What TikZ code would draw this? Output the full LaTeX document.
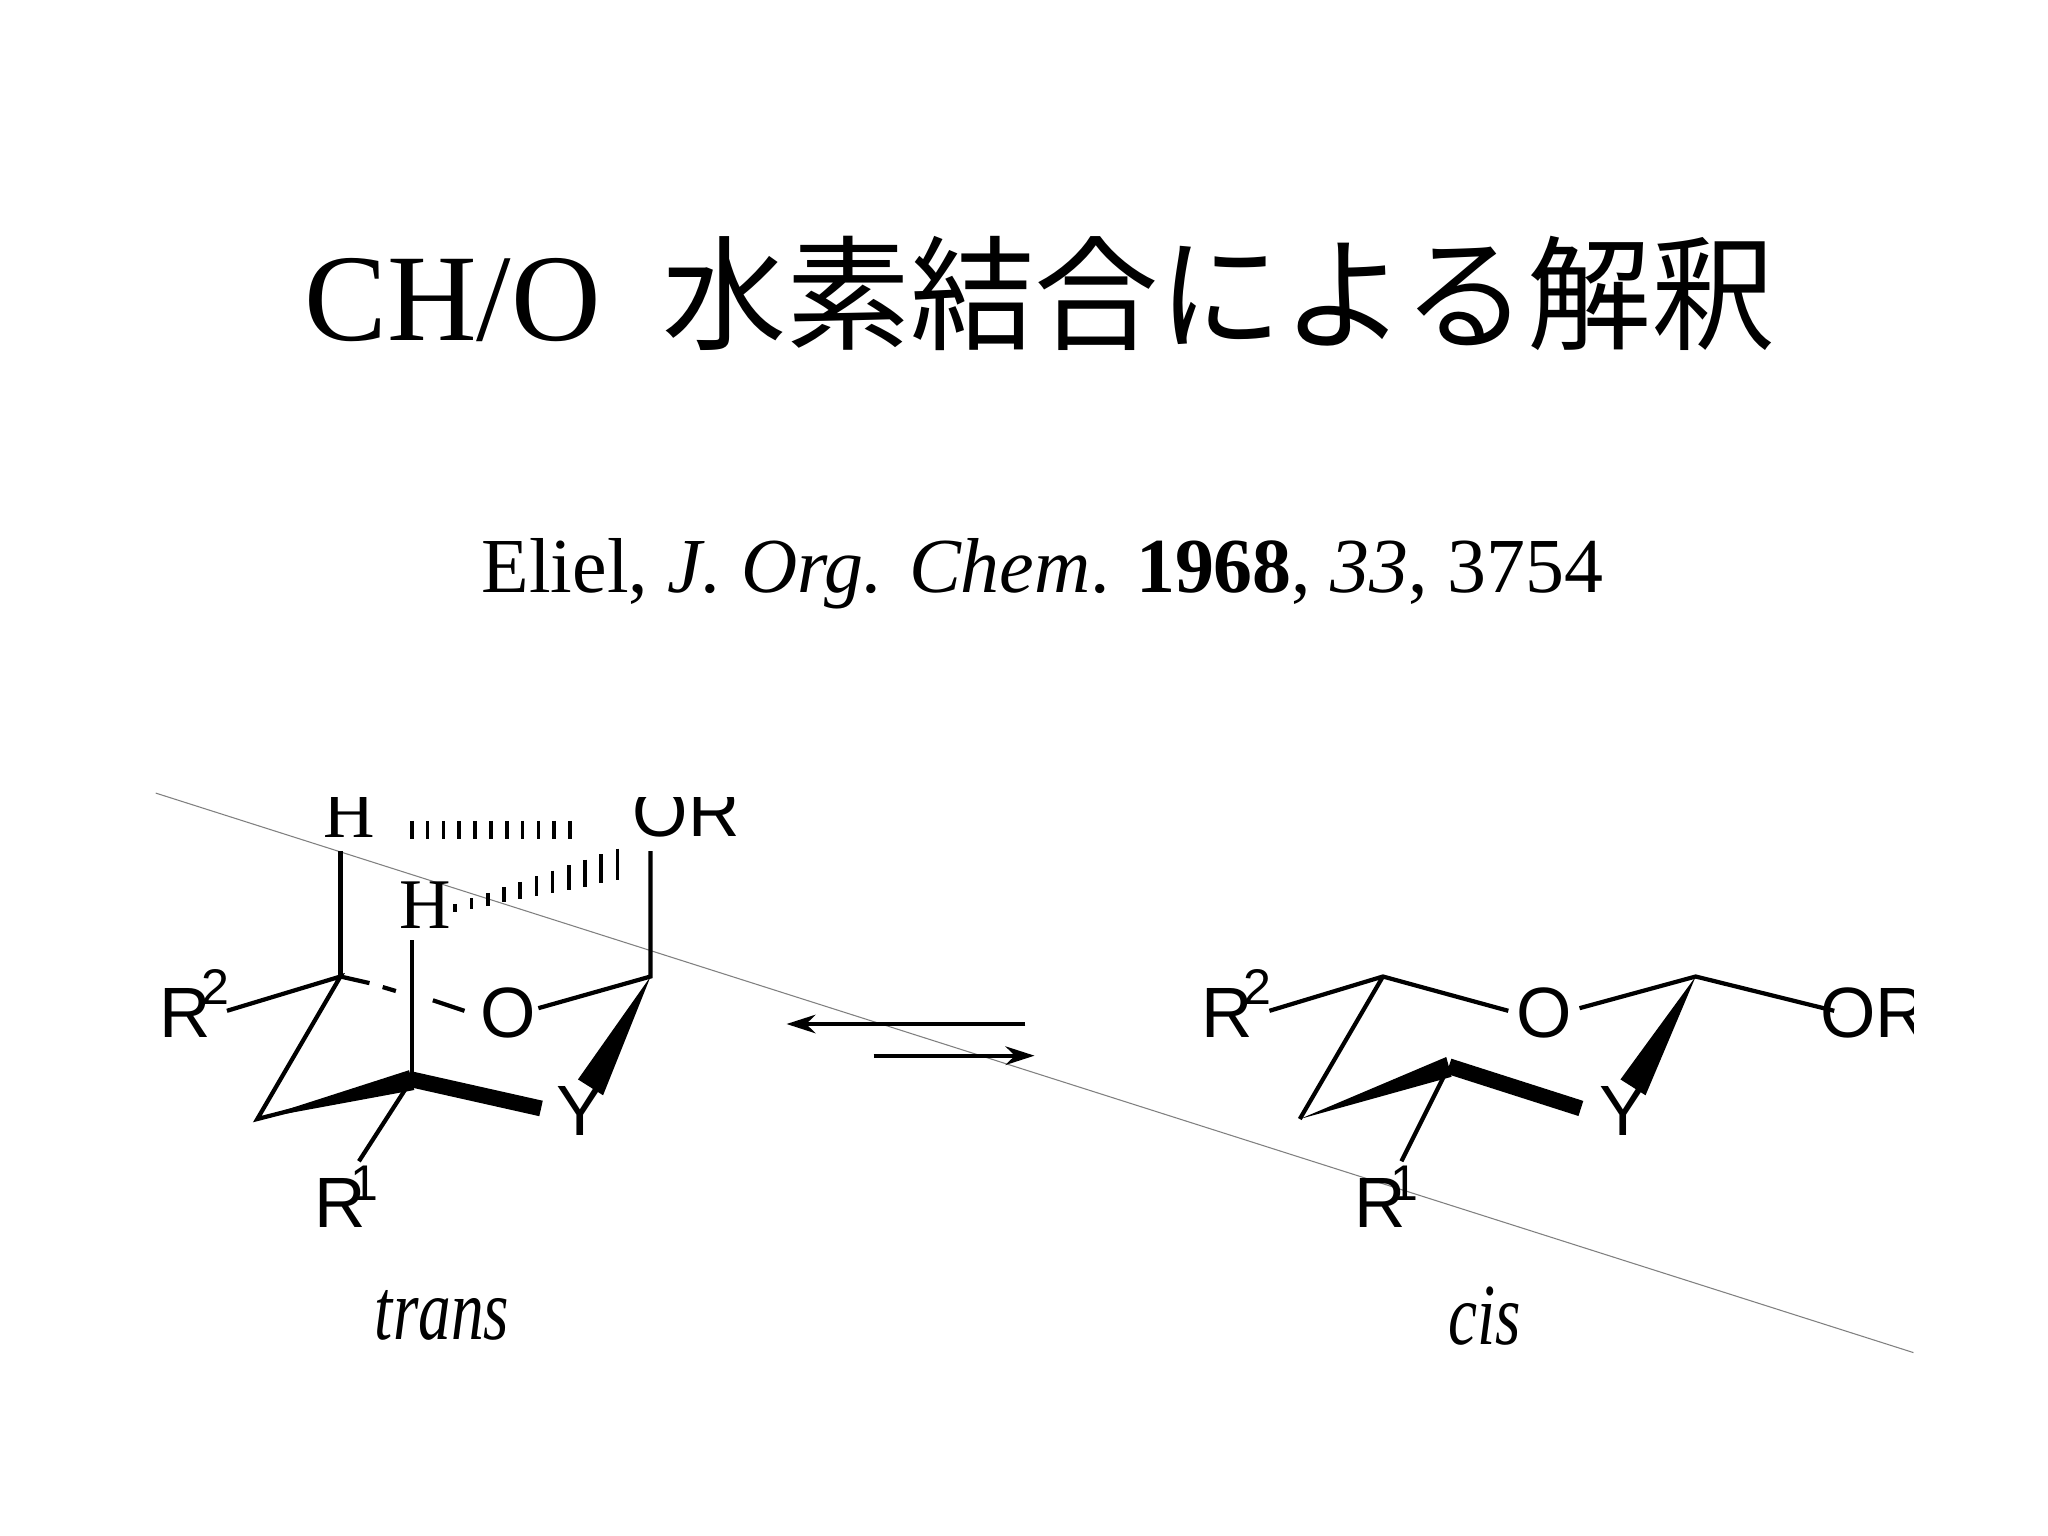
\documentclass[tikz,border=0pt]{standalone}
\usepackage{fontspec}
\usetikzlibrary{arrows.meta}
\setmainfont{Liberation Serif}
\newfontfamily\jp{Noto Sans CJK JP}
\newfontfamily\hv{Liberation Sans}
\begin{document}
\begin{tikzpicture}[x=1pt,y=-1pt,
  bond/.style={line width=3.2pt},
  bold/.style={line width=12pt},
  atom/.style={font=\hv\fontsize{54}{54}\selectfont,inner sep=0pt},
  sup/.style={font=\hv\fontsize{38}{38}\selectfont,inner sep=0pt},
  hatch/.style={line width=2.8pt}]
\useasboundingbox[fill=white] (0,0) rectangle (1552,1164);
\node (title) at (788,222) {\fontsize{94}{98}\selectfont CH/O\hspace{0.5em}{\jp 水素結合による解釈}};
\node (cite) at (790,435) {\fontsize{59}{62}\selectfont Eliel, \textit{J. Org. Chem}. \textbf{1968}, \textit{33}, 3754};
\draw[gray,line width=0.8pt] (118,601) -- (1450,1025);
\begin{scope}
\clip (0,604) rectangle (1450,1164);
% trans
\node[atom] (r2a) at (140,768) {R};\node[sup] at (163,748) {2};
\node[atom] (oa) at (385,768) {O};
\node[atom] (ya) at (440,842) {Y};
\node[atom] (r1a) at (258,912) {R};\node[sup] at (276,897) {1};
\node[font=\fontsize{54}{54}\selectfont,inner sep=0pt] (ha) at (265,617) {H};
\node[font=\fontsize{54}{54}\selectfont,inner sep=0pt] (hb) at (322,686) {H};
\node[atom] (ora) at (520,615) {OR};
\coordinate (a1) at (258,740);\coordinate (a2) at (195,848);\coordinate (a3) at (312,818);\coordinate (a5) at (493,740);
\draw[bond] (172,766) -- (a1) -- (a2) -- (a3);
\draw[bond] (a1) -- (258,645);
\draw[bond] (a1) -- (280,745); \draw[bond] (290,748) -- (300,751); \draw[bond] (328,758) -- (352,766);
\draw[bond] (408,764) -- (a5) -- (493,645);
\draw[bond] (a3) -- (312,712);
\draw[bond] (a3) -- (272,880);
\fill (a2) -- (310,811) -- (314,826) -- cycle;
\draw[bold] (a3) -- (410,840);
\fill (a5) -- (438,818) -- (457,830) -- cycle;
\foreach \i in {0,...,10} \draw[hatch] ({312+\i*12},622) -- ({312+\i*12},636);
\foreach \i in {0,...,10} {\pgfmathsetmacro\t{\i/10}
  \draw[hatch] ({345+\t*123},{688-\t*33-3-\t*9}) -- ({345+\t*123},{688-\t*33+3+\t*9});}
% cis
\node[atom] (r2b) at (930,768) {R};\node[sup] at (953,748) {2};
\node[atom] (ob) at (1170,768) {O};
\node[atom] (yb) at (1230,842) {Y};
\node[atom] (r1b) at (1046,912) {R};\node[sup] at (1064,897) {1};
\node[atom] (orb) at (1420,768) {OR};
\coordinate (b1) at (1048,740);\coordinate (b2) at (985,848);\coordinate (b3) at (1098,808);\coordinate (b5) at (1285,740);
\draw[bond] (962,766) -- (b1) -- (1143,766);
\draw[bond] (1197,764) -- (b5) -- (1390,766);
\draw[bond] (b1) -- (b2);
\fill (b2) -- (1096,801) -- (1100,816) -- cycle;
\draw[bold] (b3) -- (1198,840);
\draw[bond] (b3) -- (1062,880);
\fill (b5) -- (1228,818) -- (1247,830) -- cycle;
\end{scope}
% arrows
\coordinate (e1) at (777,776);\coordinate (e2) at (596,776);
\coordinate (e3) at (662,800);\coordinate (e4) at (784,800);
\draw[line width=3.2pt,-{Stealth[length=22pt,width=14pt]}] (e1) -- (e2);
\draw[line width=3.2pt,-{Stealth[length=22pt,width=14pt]}] (e3) -- (e4);
\node (trans) at (335,997) {\fontsize{66}{66}\selectfont\itshape\addfontfeature{FakeStretch=0.75}trans};
\node (cis) at (1125,997) {\fontsize{66}{66}\selectfont\itshape\addfontfeature{FakeStretch=0.75}cis};
\end{tikzpicture}
\end{document}
